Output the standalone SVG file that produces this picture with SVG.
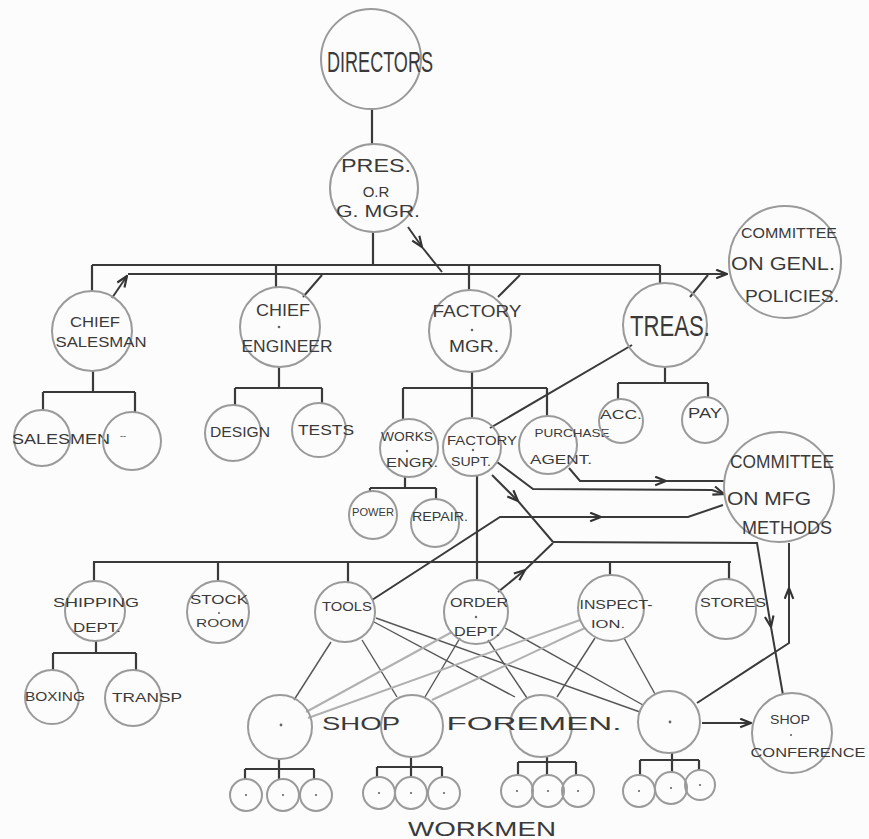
<svg xmlns="http://www.w3.org/2000/svg" width="869" height="839" viewBox="0 0 869 839">
<defs>
<style>
.bg{fill:#fcfcfc}
.nd circle.c{fill:none;stroke:#9a9a9a;stroke-width:2}
.dot{fill:#666}
.t{font-family:"Liberation Sans",Arial,sans-serif;fill:#3a3a3a;text-anchor:middle}
.ln{fill:none;stroke:#3a3a3a;stroke-width:2.2}
.ar{fill:none;stroke:#3a3a3a;stroke-width:2}
.x{fill:none;stroke:#555;stroke-width:1.4}
.xl{fill:none;stroke:#b0b0b0;stroke-width:2}
</style>
<marker id="arr" viewBox="0 0 12 10" refX="11" refY="5" markerWidth="13" markerHeight="11" markerUnits="userSpaceOnUse" orient="auto">
<path d="M1,1 L11,5 L1,9" fill="none" stroke="#333" stroke-width="2"/>
</marker>
</defs>
<rect class="bg" x="0" y="0" width="869" height="839"/>

<g id="connectors">
<path class="ln" d="M372,109 V145"/>
<path class="ln" d="M373,232 V265"/>
<path class="ln" d="M92,265 H660 M92,265 V291 M276,265 V287 M469,265 V290 M660,265 V283"/>
<path class="ln" d="M93,371 V392 M43,392 H135 M43,392 V410 M135,392 V412"/>
<path class="ln" d="M279,367 V388 M235,388 H322 M235,388 V405 M322,388 V403"/>
<path class="ln" d="M472,372 V418 M403,388 H547 M403,388 V420 M547,388 V416"/>
<path class="ln" d="M665,367 V383 M618,383 H708 M618,383 V399 M708,383 V397"/>
<path class="ln" d="M405,477 V488 M370,488 H436 M370,488 V492 M436,488 V499"/>
<path class="ln" d="M477,476 V580"/>
<path class="ln" d="M93,562 H731 M94,562 V581 M218,562 V581 M348,562 V582 M610,562 V575 M729,562 V579"/>
<path class="ln" d="M96,641 V653 M53,653 H136 M53,653 V670 M136,653 V670"/>
<path class="ln" d="M279,759 V779 M245,769 H314 M245,769 V779 M314,769 V779"/>
<path class="ln" d="M411,757 V777 M377,767 H442 M377,767 V777 M442,767 V777"/>
<path class="ln" d="M547,757 V775 M518,762 H576 M518,762 V775 M576,762 V775"/>
<path class="ln" d="M672,753 V772 M640,760 H699 M640,760 V776 M699,760 V770"/>

<path class="ar" d="M408,227 L422,247" marker-end="url(#arr)"/>
<path class="ar" d="M422,247 L442,272"/>
<path class="ar" d="M112,298 L127,276" marker-end="url(#arr)"/>
<path class="ar" d="M128,274 H727" marker-end="url(#arr)"/>
<path class="ar" d="M303,297 L322,275"/>
<path class="ar" d="M498,297 L520,275"/>
<path class="ar" d="M690,297 L708,275"/>
<path class="ar" d="M632,345 L490,428"/>
<path class="ar" d="M569,468 L580,481 H666" marker-end="url(#arr)"/>
<path class="ar" d="M666,481 H724"/>
<path class="ar" d="M497,462 L533,489 L712,490 L724,494" marker-end="url(#arr)"/>
<path class="ar" d="M372,600 L500,517 L601,517" marker-end="url(#arr)"/>
<path class="ar" d="M601,517 L688,517 L723,505"/>
<path class="ar" d="M492,475 L518,501" marker-end="url(#arr)"/>
<path class="ar" d="M518,501 L553,542"/>
<path class="ar" d="M498,592 L525,570" marker-end="url(#arr)"/>
<path class="ar" d="M525,570 L553,543"/>
<path class="ar" d="M553,542 L757,543 L771,627" marker-end="url(#arr)"/>
<path class="ar" d="M771,627 L783,695"/>
<path class="ar" d="M697,703 L789,643 L789,588" marker-end="url(#arr)"/>
<path class="ar" d="M789,588 L789,543"/>
<path class="ar" d="M702,723 L751,723" marker-end="url(#arr)"/>

<path class="x" d="M331,642 L294,700"/>
<path class="x" d="M362,640 L397,697"/>
<path class="x" d="M374,622 L515,697"/>
<path class="x" d="M376,618 L640,712"/>
<path class="xl" d="M452,632 L306,712"/>
<path class="x" d="M460,638 L425,697"/>
<path class="x" d="M488,640 L527,698"/>
<path class="x" d="M505,628 L643,705"/>
<path class="xl" d="M580,620 L308,718"/>
<path class="xl" d="M585,628 L432,700"/>
<path class="x" d="M595,638 L557,697"/>
<path class="x" d="M624,638 L655,694"/>
</g>

<g id="directors" class="nd"><circle class="c" cx="371" cy="59" r="50"/>
<text class="t" x="380" y="72" font-size="30" textLength="106" lengthAdjust="spacingAndGlyphs">DIRECTORS</text></g>

<g id="pres" class="nd"><circle class="c" cx="374" cy="188" r="44"/>
<text class="t" x="376" y="172" font-size="19" textLength="70" lengthAdjust="spacingAndGlyphs">PRES.</text>
<text class="t" x="376" y="197" font-size="15">O.R</text>
<text class="t" x="378" y="217" font-size="17" textLength="84" lengthAdjust="spacingAndGlyphs">G. MGR.</text></g>

<g id="committee_genl" class="nd"><circle class="c" cx="785" cy="262" r="56"/>
<text class="t" x="789" y="238" font-size="15" textLength="96" lengthAdjust="spacingAndGlyphs">COMMITTEE</text>
<text class="t" x="783" y="270" font-size="18" textLength="104" lengthAdjust="spacingAndGlyphs">ON GENL.</text>
<text class="t" x="792" y="302" font-size="17" textLength="94" lengthAdjust="spacingAndGlyphs">POLICIES.</text></g>

<g id="chief_salesman" class="nd"><circle class="c" cx="92" cy="331" r="40"/>
<text class="t" x="95" y="327" font-size="14" textLength="50" lengthAdjust="spacingAndGlyphs">CHIEF</text>
<text class="t" x="101" y="347" font-size="14" textLength="91" lengthAdjust="spacingAndGlyphs">SALESMAN</text></g>

<g id="chief_engineer" class="nd"><circle class="c" cx="280" cy="327" r="40"/><circle class="dot" cx="279" cy="327" r="1.3"/>
<text class="t" x="283" y="316" font-size="16" textLength="54" lengthAdjust="spacingAndGlyphs">CHIEF</text>
<text class="t" x="287" y="352" font-size="16" textLength="91" lengthAdjust="spacingAndGlyphs">ENGINEER</text></g>

<g id="factory_mgr" class="nd"><circle class="c" cx="470" cy="331" r="41"/><circle class="dot" cx="472" cy="330" r="1.3"/>
<text class="t" x="477" y="317" font-size="17" textLength="89" lengthAdjust="spacingAndGlyphs">FACTORY</text>
<text class="t" x="474" y="352" font-size="17" textLength="50" lengthAdjust="spacingAndGlyphs">MGR.</text></g>

<g id="treas" class="nd"><circle class="c" cx="665" cy="325" r="42"/>
<text class="t" x="670" y="336" font-size="30" textLength="80" lengthAdjust="spacingAndGlyphs">TREAS.</text></g>

<g id="salesmen_1" class="nd"><circle class="c" cx="42" cy="438" r="28"/>
<text class="t" x="61" y="444" font-size="15" textLength="98" lengthAdjust="spacingAndGlyphs">SALESMEN</text></g>
<g id="salesmen_2" class="nd"><circle class="c" cx="132" cy="441" r="29"/>
<text class="t" x="123" y="439" font-size="9">--</text></g>

<g id="design" class="nd"><circle class="c" cx="233" cy="433" r="28"/>
<text class="t" x="240" y="437" font-size="14" textLength="60" lengthAdjust="spacingAndGlyphs">DESIGN</text></g>
<g id="tests" class="nd"><circle class="c" cx="319" cy="430" r="27"/>
<text class="t" x="326" y="435" font-size="14" textLength="56" lengthAdjust="spacingAndGlyphs">TESTS</text></g>

<g id="works_engr" class="nd"><circle class="c" cx="409" cy="448" r="29"/><circle class="dot" cx="407" cy="451" r="1.2"/>
<text class="t" x="407" y="441" font-size="12" textLength="52" lengthAdjust="spacingAndGlyphs">WORKS</text>
<text class="t" x="412" y="467" font-size="12" textLength="52" lengthAdjust="spacingAndGlyphs">ENGR.</text></g>

<g id="factory_supt" class="nd"><circle class="c" cx="472" cy="447" r="29"/><circle class="dot" cx="473" cy="450" r="1.2"/>
<text class="t" x="482" y="445" font-size="13" textLength="70" lengthAdjust="spacingAndGlyphs">FACTORY</text>
<text class="t" x="471" y="466" font-size="13" textLength="40" lengthAdjust="spacingAndGlyphs">SUPT.</text></g>

<g id="purchase_agent" class="nd"><circle class="c" cx="548" cy="445" r="29"/>
<text class="t" x="572" y="437" font-size="11" textLength="75" lengthAdjust="spacingAndGlyphs">PURCHASE</text>
<text class="t" x="561" y="464" font-size="13" textLength="62" lengthAdjust="spacingAndGlyphs">AGENT.</text></g>

<g id="acc" class="nd"><circle class="c" cx="621" cy="421" r="22"/>
<text class="t" x="621" y="419" font-size="13" textLength="42" lengthAdjust="spacingAndGlyphs">ACC.</text></g>
<g id="pay" class="nd"><circle class="c" cx="705" cy="420" r="23"/>
<text class="t" x="705" y="418" font-size="14" textLength="34" lengthAdjust="spacingAndGlyphs">PAY</text></g>

<g id="committee_mfg" class="nd"><circle class="c" cx="779" cy="487" r="55"/>
<text class="t" x="782" y="468" font-size="18" textLength="104" lengthAdjust="spacingAndGlyphs">COMMITTEE</text>
<text class="t" x="769" y="505" font-size="18" textLength="84" lengthAdjust="spacingAndGlyphs">ON  MFG</text>
<text class="t" x="787" y="534" font-size="18" textLength="90" lengthAdjust="spacingAndGlyphs">METHODS</text></g>

<g id="power" class="nd"><circle class="c" cx="373" cy="515" r="24"/>
<text class="t" x="373" y="516" font-size="10" textLength="42" lengthAdjust="spacingAndGlyphs">POWER</text></g>
<g id="repair" class="nd"><circle class="c" cx="435" cy="523" r="24"/>
<text class="t" x="440" y="521" font-size="12" textLength="56" lengthAdjust="spacingAndGlyphs">REPAIR.</text></g>

<g id="shipping_dept" class="nd"><circle class="c" cx="95" cy="611" r="30"/>
<text class="t" x="96" y="607" font-size="13" textLength="86" lengthAdjust="spacingAndGlyphs">SHIPPING</text>
<text class="t" x="97" y="632" font-size="13" textLength="48" lengthAdjust="spacingAndGlyphs">DEPT.</text></g>

<g id="stock_room" class="nd"><circle class="c" cx="218" cy="612" r="31"/><circle class="dot" cx="219" cy="613" r="1.1"/>
<text class="t" x="219" y="604" font-size="12" textLength="58" lengthAdjust="spacingAndGlyphs">STOCK</text>
<text class="t" x="220" y="627" font-size="10" textLength="48" lengthAdjust="spacingAndGlyphs">ROOM</text></g>

<g id="tools" class="nd"><circle class="c" cx="345" cy="612" r="30"/>
<text class="t" x="347" y="611" font-size="13" textLength="50" lengthAdjust="spacingAndGlyphs">TOOLS</text></g>

<g id="order_dept" class="nd"><circle class="c" cx="476" cy="612" r="32"/><circle class="dot" cx="476" cy="617" r="1.2"/>
<text class="t" x="479" y="607" font-size="13" textLength="58" lengthAdjust="spacingAndGlyphs">ORDER</text>
<text class="t" x="477" y="636" font-size="13" textLength="46" lengthAdjust="spacingAndGlyphs">DEPT.</text></g>

<g id="inspection" class="nd"><circle class="c" cx="611" cy="608" r="33"/>
<text class="t" x="616" y="609" font-size="13" textLength="73" lengthAdjust="spacingAndGlyphs">INSPECT-</text>
<text class="t" x="608" y="628" font-size="11" textLength="34" lengthAdjust="spacingAndGlyphs">ION.</text></g>

<g id="stores" class="nd"><circle class="c" cx="726" cy="609" r="30"/>
<text class="t" x="733" y="607" font-size="13" textLength="66" lengthAdjust="spacingAndGlyphs">STORES</text></g>

<g id="boxing" class="nd"><circle class="c" cx="52" cy="697" r="27"/>
<text class="t" x="55" y="701" font-size="12" textLength="60" lengthAdjust="spacingAndGlyphs">BOXING</text></g>
<g id="transp" class="nd"><circle class="c" cx="133" cy="698" r="28"/>
<text class="t" x="147" y="702" font-size="13" textLength="70" lengthAdjust="spacingAndGlyphs">TRANSP</text></g>

<g id="foreman_1" class="nd"><circle class="c" cx="280" cy="727" r="32"/><circle class="dot" cx="281" cy="725" r="1.4"/></g>
<g id="foreman_2" class="nd"><circle class="c" cx="412" cy="726" r="31"/></g>
<g id="foreman_3" class="nd"><circle class="c" cx="541" cy="726" r="31"/></g>
<g id="foreman_4" class="nd"><circle class="c" cx="669" cy="722" r="31"/><circle class="dot" cx="670" cy="722" r="1.4"/></g>
<g id="shop_foremen_label"><text class="t" font-size="19" y="730"><tspan x="361" textLength="78" lengthAdjust="spacingAndGlyphs">SHOP</tspan><tspan x="534" textLength="175" lengthAdjust="spacingAndGlyphs">FOREMEN.</tspan></text></g>

<g id="shop_conference" class="nd"><circle class="c" cx="792" cy="733" r="40"/><circle class="dot" cx="791" cy="735" r="1.1"/>
<text class="t" x="790" y="724" font-size="12" textLength="40" lengthAdjust="spacingAndGlyphs">SHOP</text>
<text class="t" x="808" y="757" font-size="12" textLength="115" lengthAdjust="spacingAndGlyphs">CONFERENCE</text></g>

<g id="workmen_1" class="nd"><circle class="c" cx="246" cy="795" r="16"/><circle class="c" cx="283" cy="795" r="16"/><circle class="c" cx="316" cy="795" r="16"/><circle class="dot" cx="246" cy="795" r="1.1"/><circle class="dot" cx="283" cy="795" r="1.1"/><circle class="dot" cx="316" cy="795" r="1.1"/></g>
<g id="workmen_2" class="nd"><circle class="c" cx="379" cy="793" r="16"/><circle class="c" cx="411" cy="793" r="16"/><circle class="c" cx="444" cy="793" r="16"/><circle class="dot" cx="379" cy="793" r="1.1"/><circle class="dot" cx="411" cy="793" r="1.1"/><circle class="dot" cx="444" cy="793" r="1.1"/></g>
<g id="workmen_3" class="nd"><circle class="c" cx="517" cy="791" r="16"/><circle class="c" cx="548" cy="791" r="16"/><circle class="c" cx="578" cy="791" r="16"/><circle class="dot" cx="517" cy="791" r="1.1"/><circle class="dot" cx="548" cy="791" r="1.1"/><circle class="dot" cx="578" cy="791" r="1.1"/></g>
<g id="workmen_4" class="nd"><circle class="c" cx="639" cy="791" r="16"/><circle class="c" cx="671" cy="788" r="16"/><circle class="c" cx="700" cy="785" r="15"/><circle class="dot" cx="639" cy="791" r="1.1"/><circle class="dot" cx="671" cy="788" r="1.1"/><circle class="dot" cx="700" cy="785" r="1.1"/></g>
<g id="workmen_label"><text class="t" x="482" y="836" font-size="20" textLength="148" lengthAdjust="spacingAndGlyphs">WORKMEN</text></g>
</svg>
